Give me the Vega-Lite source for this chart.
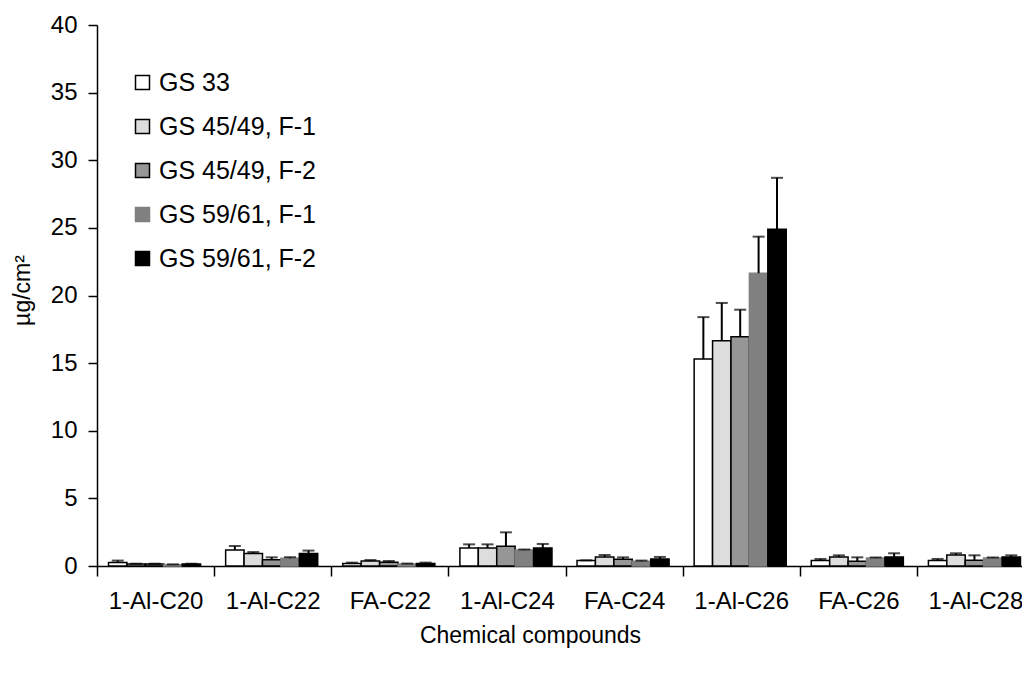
{
  "$schema": "https://vega.github.io/schema/vega-lite/v6.json",
  "autosize": {"type": "none"},
  "width": 925,
  "height": 541,
  "padding": {"left": 97, "top": 25, "right": 0, "bottom": 114},
  "background": "white",
  "config": {
    "view": {"stroke": null},
    "font": "Liberation Sans",
    "axis": {
      "labelFont": "Liberation Sans",
      "titleFont": "Liberation Sans",
      "labelColor": "black",
      "titleColor": "black",
      "labelFontSize": 24,
      "titleFontSize": 23,
      "titleFontWeight": "normal",
      "domainColor": "black",
      "tickColor": "black",
      "domainWidth": 1.5,
      "tickWidth": 1.5,
      "grid": false
    },
    "legend": {
      "labelFont": "Liberation Sans",
      "labelFontSize": 25,
      "labelColor": "black"
    }
  },
  "data": {
    "values": [
      {"compound": "1-Al-C20", "series": "GS 33", "value": 0.25, "err": 0.15},
      {"compound": "1-Al-C20", "series": "GS 45/49, F-1", "value": 0.15, "err": 0.02},
      {"compound": "1-Al-C20", "series": "GS 45/49, F-2", "value": 0.15, "err": 0.02},
      {"compound": "1-Al-C20", "series": "GS 59/61, F-1", "value": 0.1, "err": 0.02},
      {"compound": "1-Al-C20", "series": "GS 59/61, F-2", "value": 0.15, "err": 0.02},
      {"compound": "1-Al-C22", "series": "GS 33", "value": 1.18, "err": 0.3},
      {"compound": "1-Al-C22", "series": "GS 45/49, F-1", "value": 0.92, "err": 0.11},
      {"compound": "1-Al-C22", "series": "GS 45/49, F-2", "value": 0.47, "err": 0.17},
      {"compound": "1-Al-C22", "series": "GS 59/61, F-1", "value": 0.57, "err": 0.08},
      {"compound": "1-Al-C22", "series": "GS 59/61, F-2", "value": 0.92, "err": 0.22},
      {"compound": "FA-C22", "series": "GS 33", "value": 0.18, "err": 0.07},
      {"compound": "FA-C22", "series": "GS 45/49, F-1", "value": 0.37, "err": 0.07},
      {"compound": "FA-C22", "series": "GS 45/49, F-2", "value": 0.27, "err": 0.1},
      {"compound": "FA-C22", "series": "GS 59/61, F-1", "value": 0.15, "err": 0.03},
      {"compound": "FA-C22", "series": "GS 59/61, F-2", "value": 0.18, "err": 0.07},
      {"compound": "1-Al-C24", "series": "GS 33", "value": 1.33, "err": 0.27},
      {"compound": "1-Al-C24", "series": "GS 45/49, F-1", "value": 1.33, "err": 0.27},
      {"compound": "1-Al-C24", "series": "GS 45/49, F-2", "value": 1.46, "err": 1.03},
      {"compound": "1-Al-C24", "series": "GS 59/61, F-1", "value": 1.18, "err": 0.04},
      {"compound": "1-Al-C24", "series": "GS 59/61, F-2", "value": 1.33, "err": 0.3},
      {"compound": "FA-C24", "series": "GS 33", "value": 0.4, "err": 0.02},
      {"compound": "FA-C24", "series": "GS 45/49, F-1", "value": 0.67, "err": 0.14},
      {"compound": "FA-C24", "series": "GS 45/49, F-2", "value": 0.5, "err": 0.14},
      {"compound": "FA-C24", "series": "GS 59/61, F-1", "value": 0.35, "err": 0.05},
      {"compound": "FA-C24", "series": "GS 59/61, F-2", "value": 0.52, "err": 0.15},
      {"compound": "1-Al-C26", "series": "GS 33", "value": 15.3, "err": 3.1},
      {"compound": "1-Al-C26", "series": "GS 45/49, F-1", "value": 16.65, "err": 2.8},
      {"compound": "1-Al-C26", "series": "GS 45/49, F-2", "value": 16.95, "err": 2.0},
      {"compound": "1-Al-C26", "series": "GS 59/61, F-1", "value": 21.65, "err": 2.7},
      {"compound": "1-Al-C26", "series": "GS 59/61, F-2", "value": 24.9, "err": 3.8},
      {"compound": "FA-C26", "series": "GS 33", "value": 0.4, "err": 0.12},
      {"compound": "FA-C26", "series": "GS 45/49, F-1", "value": 0.67, "err": 0.12},
      {"compound": "FA-C26", "series": "GS 45/49, F-2", "value": 0.35, "err": 0.29},
      {"compound": "FA-C26", "series": "GS 59/61, F-1", "value": 0.59, "err": 0.04},
      {"compound": "FA-C26", "series": "GS 59/61, F-2", "value": 0.67, "err": 0.27},
      {"compound": "1-Al-C28", "series": "GS 33", "value": 0.4, "err": 0.12},
      {"compound": "1-Al-C28", "series": "GS 45/49, F-1", "value": 0.81, "err": 0.13},
      {"compound": "1-Al-C28", "series": "GS 45/49, F-2", "value": 0.42, "err": 0.37},
      {"compound": "1-Al-C28", "series": "GS 59/61, F-1", "value": 0.59, "err": 0.04},
      {"compound": "1-Al-C28", "series": "GS 59/61, F-2", "value": 0.67, "err": 0.12}
    ]
  },
  "transform": [{"calculate": "datum.value + datum.err", "as": "upper"}],
  "encoding": {
    "x": {
      "field": "compound",
      "type": "nominal",
      "sort": null,
      "scale": {"range": [0, 937], "paddingInner": 0, "paddingOuter": 0},
      "axis": {
        "title": "Chemical compounds",
        "labelAngle": 0,
        "tickBand": "extent",
        "tickSize": 10,
        "labelPadding": 13,
        "titleX": 433,
        "titleY": 69,
        "titleBaseline": "middle"
      }
    },
    "xOffset": {
      "field": "series",
      "type": "nominal",
      "sort": null,
      "scale": {"paddingInner": 0, "paddingOuter": 0.68, "align": 0.46}
    }
  },
  "layer": [
    {
      "mark": {"type": "bar", "strokeWidth": 1.5},
      "encoding": {
        "y": {
          "field": "value",
          "type": "quantitative",
          "scale": {"domain": [0, 40], "nice": false},
          "axis": {
            "title": "µg/cm²",
            "values": [0, 5, 10, 15, 20, 25, 30, 35, 40],
            "tickSize": 9,
            "labelPadding": 11,
            "titleX": -75,
            "titleY": 265,
            "titleAngle": -90,
            "titleBaseline": "middle",
            "titleAlign": "center"
          }
        },
        "fill": {
          "field": "series",
          "type": "nominal",
          "sort": null,
          "scale": {"range": ["#ffffff", "#dddddd", "#969696", "#808080", "#000000"]},
          "legend": {
            "title": null,
            "orient": "none",
            "legendX": 33,
            "legendY": 45,
            "symbolType": "square",
            "symbolSize": 196,
            "symbolStrokeWidth": 1.5,
            "rowPadding": 18,
            "labelOffset": 4
          }
        },
        "stroke": {
          "field": "series",
          "type": "nominal",
          "sort": null,
          "scale": {"range": ["#000000", "#000000", "#000000", "#808080", "#000000"]},
          "legend": {
            "title": null,
            "orient": "none",
            "legendX": 33,
            "legendY": 45,
            "symbolType": "square",
            "symbolSize": 196,
            "symbolStrokeWidth": 1.5,
            "rowPadding": 18,
            "labelOffset": 4
          }
        }
      }
    },
    {
      "mark": {"type": "rule", "color": "black", "strokeWidth": 2},
      "encoding": {
        "y": {"field": "value", "type": "quantitative"},
        "y2": {"field": "upper"}
      }
    },
    {
      "mark": {"type": "tick", "color": "black", "thickness": 2, "size": 12, "orient": "horizontal"},
      "encoding": {
        "y": {"field": "upper", "type": "quantitative"}
      }
    }
  ]
}
